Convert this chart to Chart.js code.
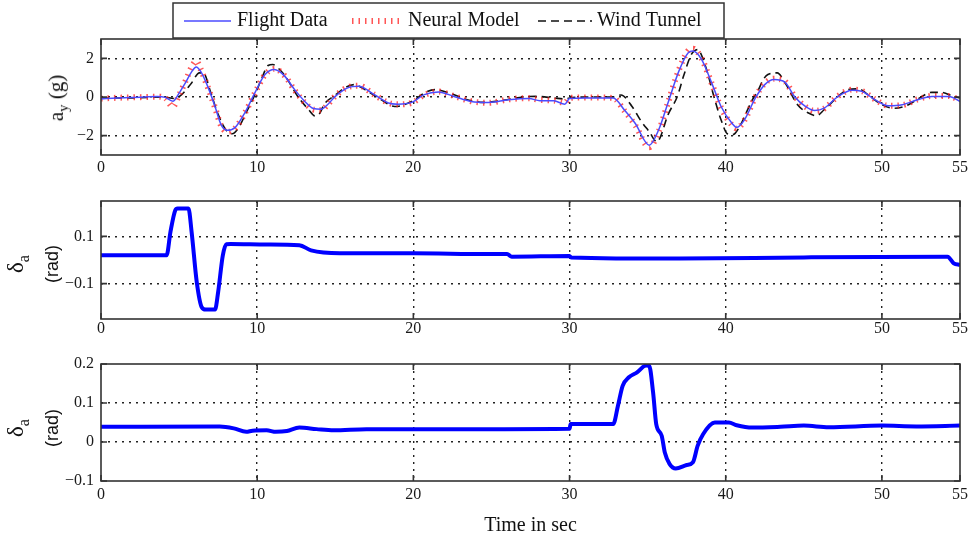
<!DOCTYPE html>
<html>
<head>
<meta charset="utf-8">
<script src="https://cdn.jsdelivr.net/npm/chart.js@4.4.0/dist/chart.umd.min.js"></script>
<style>
  body { margin: 0; background: #fff; }
  #wrap { position: relative; width: 973px; height: 538px; overflow: hidden; }
  #wrap canvas { position: absolute; left: 0; }
  .ytitle { position: absolute; transform: translate(-50%, -50%) rotate(-90deg); white-space: nowrap; text-align: center; color: #111; }
  .ytitle sub { font-size: 70%; vertical-align: -0.35em; }
  .serif { font-family: 'Liberation Serif', serif; }
  .sans { font-family: 'Liberation Sans', sans-serif; }
</style>
</head>
<body>
<div id="wrap">
  <canvas id="ay" width="973" height="180" style="top:0"></canvas>
  <canvas id="da" width="973" height="160" style="top:180px"></canvas>
  <canvas id="dr" width="973" height="198" style="top:340px"></canvas>
  <div class="ytitle serif" style="left:58px; top:98px; font-size:21px;">a<sub>y</sub> (g)</div>
  <div class="ytitle" style="left:34px; top:264px; line-height:29px;"><span class="serif" style="font-size:23px">&delta;<sub>a</sub></span><br><span class="sans" style="font-size:18px">(rad)</span></div>
  <div class="ytitle" style="left:34px; top:428px; line-height:29px;"><span class="serif" style="font-size:23px">&delta;<sub>a</sub></span><br><span class="sans" style="font-size:18px">(rad)</span></div>
</div>
<script>
// lateral acceleration, g
const flightT = [0, 1, 2, 2.8, 3.6, 4.1, 4.6, 5.0, 5.4, 5.8, 6.1, 6.4, 6.65, 7.0, 7.3, 7.7, 8.1, 8.6, 9.2, 9.85,
  10.5, 11.1, 11.76, 12.4, 13.05, 13.6, 14.1, 14.5, 15.0, 15.8, 16.5, 17.5, 18.4, 19.0, 19.9, 20.7, 21.6, 22.6,
  23.7, 24.8, 26.1, 27.4, 28.1, 29.0, 29.7, 30.0, 31.0, 32.8, 33.5, 34.2, 35.1, 35.7, 36.3, 37.0, 37.6, 37.9,
  38.45, 39.1, 39.7, 40.4, 40.7, 41.2, 41.9, 42.5, 43.1, 43.8, 44.4, 45.1, 45.7, 46.3, 47.2, 48.1, 48.7, 49.55,
  50.4, 51.3, 52.3, 53.2, 54.3, 55];
const flightAy = [-0.1, -0.05, -0.02, 0, 0.02, -0.02, -0.22, 0.2, 0.73, 1.3, 1.55, 1.3, 0.9, 0.2, -0.49, -1.45, -1.72, -1.57, -0.83, 0.21,
  1.16, 1.42, 1.08, 0.38, -0.23, -0.6, -0.63, -0.4, 0.03, 0.47, 0.55, 0.12, -0.31, -0.37, -0.28, 0.12, 0.26, 0.03,
  -0.23, -0.28, -0.14, -0.08, -0.19, -0.2, -0.37, -0.08, -0.05, -0.05, -0.66, -1.36, -2.49, -1.71, -0.31, 1.34, 2.29, 2.38,
  1.95, 0.73, -0.49, -1.36, -1.57, -1.18, -0.05, 0.64, 0.9, 0.76, 0.03, -0.49, -0.7, -0.58, 0.03, 0.35, 0.3, -0.14,
  -0.45, -0.4, -0.14, 0.03, 0.03, -0.23];
const neuralAy = [-0.08, -0.04, -0.02, 0, 0.02, -0.05, -0.5, 0.1, 0.8, 1.55, 1.85, 1.4, 0.9, 0.15, -0.55, -1.5, -1.8, -1.6, -0.85, 0.2,
  1.15, 1.45, 1.1, 0.35, -0.3, -0.65, -0.68, -0.4, 0.05, 0.5, 0.58, 0.12, -0.3, -0.38, -0.3, 0.1, 0.28, 0.05,
  -0.22, -0.3, -0.12, -0.06, -0.15, -0.18, -0.3, -0.05, -0.02, -0.05, -0.7, -1.45, -2.6, -1.8, -0.3, 1.4, 2.4, 2.5,
  2.0, 0.7, -0.55, -1.45, -1.62, -1.2, 0, 0.7, 0.95, 0.8, 0.05, -0.5, -0.72, -0.6, 0.05, 0.38, 0.32, -0.12,
  -0.45, -0.42, -0.12, 0.05, 0.05, -0.2];
const tunnelT = [0, 2, 4, 4.7, 5.2, 5.8, 6.3, 6.6, 7.0, 7.5, 8.0, 8.4, 8.8, 9.3, 9.9, 10.3, 10.7, 11.0, 11.4, 11.8,
  12.6, 13.3, 13.7, 14.0, 14.3, 15.0, 15.6, 16.2, 16.9, 17.95, 18.8, 19.2, 20.1, 20.7, 21.4, 22.3, 23.3, 24.5,
  26.0, 27.0, 27.9, 29.0, 29.7, 30.0, 31.5, 32.8, 33.3, 34.0, 34.6, 35.1, 35.6, 35.8, 36.3, 36.9, 37.3, 37.8,
  38.2, 38.7, 39.3, 39.7, 40.1, 40.4, 40.6, 41.0, 41.65, 42.1, 42.4, 42.7, 43.3, 43.8, 44.6, 45.3, 45.8, 46.3,
  47.2, 47.8, 48.5, 49.1, 50.0, 50.8, 51.7, 52.3, 53.2, 53.8, 54.6, 55];
const tunnelAy = [-0.05, -0.05, 0, -0.08, 0.15, 0.73, 1.25, 1.2, 0.3, -0.9, -1.7, -1.9, -1.6, -0.8, 0.2, 0.98, 1.63, 1.68, 1.45, 1.08,
  0.03, -0.66, -0.98, -0.85, -0.37, 0.1, 0.47, 0.64, 0.38, -0.14, -0.49, -0.45, -0.14, 0.21, 0.38, 0.21, -0.1, -0.28,
  -0.14, 0, 0.03, -0.05, -0.1, -0.05, 0, 0, 0.1, -0.49, -1.27, -1.79, -2.32, -2.1, -0.93, 0.03, 1.08, 2.2,
  2.45, 1.6, -0.14, -1.18, -1.9, -1.95, -1.88, -1.36, -0.23, 0.38, 0.9, 1.16, 1.25, 0.73, -0.4, -0.83, -0.97, -0.66,
  0.03, 0.38, 0.42, 0.12, -0.4, -0.58, -0.4, -0.1, 0.24, 0.24, 0.03, -0.05];

// first deflection doublet, rad
const aileronT = [0, 4.2, 4.45, 4.75, 4.9, 5.6, 5.8, 6.13, 6.45, 6.7, 7.3, 7.5, 7.8, 8.03, 8.3, 10.6, 12.7, 13.45,
  15.3, 20, 24.7, 26.0, 26.3, 30, 30.1, 37, 45, 54.2, 54.6, 55];
const aileronVal = [0.02, 0.02, 0.12, 0.21, 0.218, 0.218, 0.12, -0.093, -0.2, -0.21, -0.21, -0.136, 0.02, 0.067, 0.068, 0.066, 0.063, 0.041,
  0.029, 0.029, 0.025, 0.025, 0.014, 0.017, 0.011, 0.006, 0.011, 0.014, -0.014, -0.021];

// second deflection doublet, rad
const secondT = [0, 7.6, 8.5, 9.3, 9.7, 10.6, 11.2, 11.9, 12.7, 13.8, 14.9, 17, 25, 30, 30.07, 32.8, 33.1, 33.4,
  33.8, 34.3, 34.9, 35.1, 35.35, 35.55, 35.9, 36.1, 36.4, 36.8, 37.5, 37.9, 38.2, 38.55, 39.3, 40.2, 40.7, 41.7,
  43.5, 45, 46.6, 50, 52.2, 55];
const secondVal = [0.039, 0.04, 0.035, 0.026, 0.029, 0.03, 0.026, 0.028, 0.037, 0.033, 0.03, 0.033, 0.033, 0.034, 0.046, 0.046, 0.093, 0.144,
  0.166, 0.178, 0.196, 0.195, 0.127, 0.046, 0.016, -0.027, -0.056, -0.068, -0.059, -0.052, -0.01, 0.02, 0.05, 0.05, 0.043, 0.037,
  0.039, 0.042, 0.038, 0.042, 0.04, 0.042];

const timeTicks = [0, 10, 20, 30, 40, 50, 55];
const ayTicks = [-2, 0, 2];
const aileronTicks = [-0.1, 0.1];
const secondTicks = [-0.1, 0, 0.1, 0.2];

Chart.defaults.font.family = '"Liberation Serif", serif';
Chart.defaults.font.size = 16;
Chart.defaults.color = '#1a1a1a';

const pts = (t, v) => t.map((x, i) => ({ x: x, y: v[i] }));
const fmt = (v) => String(v).replace('-', '\u2212');

// box around the plot area plus inward tick marks
const frame = {
  id: 'frame',
  afterDatasetsDraw(chart) {
    const { ctx: c, chartArea: a, scales: { x, y } } = chart;
    c.save();
    c.setLineDash([]);
    c.strokeStyle = '#333';
    c.lineWidth = 1.6;
    c.strokeRect(a.left, a.top, a.width, a.height);
    c.beginPath();
    x.ticks.forEach((t) => {
      const px = x.getPixelForValue(t.value);
      c.moveTo(px, a.top); c.lineTo(px, a.top + 6);
      c.moveTo(px, a.bottom); c.lineTo(px, a.bottom - 6);
    });
    y.ticks.forEach((t) => {
      const py = y.getPixelForValue(t.value);
      c.moveTo(a.left, py); c.lineTo(a.left + 6, py);
      c.moveTo(a.right, py); c.lineTo(a.right - 6, py);
    });
    c.stroke();
    c.restore();
  }
};

const legendBox = {
  id: 'legendBox',
  afterDraw(chart) {
    const c = chart.ctx;
    const spots = [[184, 231, 237], [352, 400, 408], [538, 592, 597]];
    c.save();
    c.fillStyle = '#fff';
    c.fillRect(173, 3, 551, 35);
    c.strokeStyle = '#333';
    c.lineWidth = 1.5;
    c.strokeRect(173, 3, 551, 35);
    c.font = '20px "Liberation Serif"';
    c.textBaseline = 'middle';
    chart.data.datasets.forEach((ds, i) => {
      const [x0, x1, tx] = spots[i];
      c.strokeStyle = ds.borderColor;
      c.lineWidth = ds.borderWidth;
      c.setLineDash(ds.borderDash || []);
      c.beginPath();
      c.moveTo(x0, 21);
      c.lineTo(x1, 21);
      c.stroke();
      c.setLineDash([]);
      c.fillStyle = '#111';
      c.fillText(ds.label, tx, 21);
    });
    c.restore();
  }
};

function makePanel(id, datasets, yMin, yMax, yTicks, o) {
  const edge = (s) => (ctx) => (ctx.tick && (ctx.tick.value === s.min || ctx.tick.value === s.max) ? 'rgba(0,0,0,0)' : '#222');
  const xs = { min: 0, max: 55 };
  const ys = { min: yMin, max: yMax };
  return new Chart(document.getElementById(id), {
    type: 'line',
    data: { datasets: datasets },
    options: {
      responsive: false,
      animation: false,
      events: [],
      layout: { padding: { top: o.top, right: 13, left: 0, bottom: 0 } },
      plugins: { legend: { display: false }, tooltip: { enabled: false } },
      elements: { point: { radius: 0 }, line: { cubicInterpolationMode: 'monotone', fill: false } },
      scales: {
        x: {
          type: 'linear', min: 0, max: 55,
          afterBuildTicks: (s) => { s.ticks = timeTicks.map((v) => ({ value: v })); },
          afterFit: (s) => { s.height = o.xh; },
          ticks: { padding: o.xpad, maxRotation: 0, autoSkip: false, callback: (v) => fmt(v) },
          grid: { color: edge(xs), lineWidth: 1.4, drawTicks: false },
          border: { display: false, dash: [2, 5] },
          title: o.title ? { display: true, text: o.title, font: { size: 20 }, color: '#111', padding: { top: 3, bottom: 0 } } : { display: false }
        },
        y: {
          min: yMin, max: yMax,
          afterBuildTicks: (s) => { s.ticks = yTicks.map((v) => ({ value: v })); },
          afterFit: (s) => { s.width = 101; },
          ticks: { padding: 7, callback: (v) => fmt(v) },
          grid: { color: edge(ys), lineWidth: 1.4, drawTicks: false },
          border: { display: false, dash: [2, 5] }
        }
      }
    },
    plugins: o.legend ? [frame, legendBox] : [frame]
  });
}

makePanel('ay', [
  { label: 'Flight Data', data: pts(flightT, flightAy), borderColor: '#4b4bff', borderWidth: 1.5 },
  { label: 'Neural Model', data: pts(flightT, neuralAy), borderColor: 'rgba(255,30,30,0.75)', borderWidth: 6, borderDash: [1.5, 5] },
  { label: 'Wind Tunnel', data: pts(tunnelT, tunnelAy), borderColor: '#111', borderWidth: 1.6, borderDash: [8, 5] }
], -3, 3, ayTicks, { top: 39, xh: 25, xpad: 3, legend: true });

makePanel('da', [
  { label: 'aileron', data: pts(aileronT, aileronVal), borderColor: '#0000ff', borderWidth: 4 }
], -0.25, 0.25, aileronTicks, { top: 21, xh: 21, xpad: 0 });

makePanel('dr', [
  { label: 'second', data: pts(secondT, secondVal), borderColor: '#0000ff', borderWidth: 4 }
], -0.1, 0.2, secondTicks, { top: 24, xh: 57, xpad: 4, title: 'Time in sec' });
</script>
</body>
</html>
